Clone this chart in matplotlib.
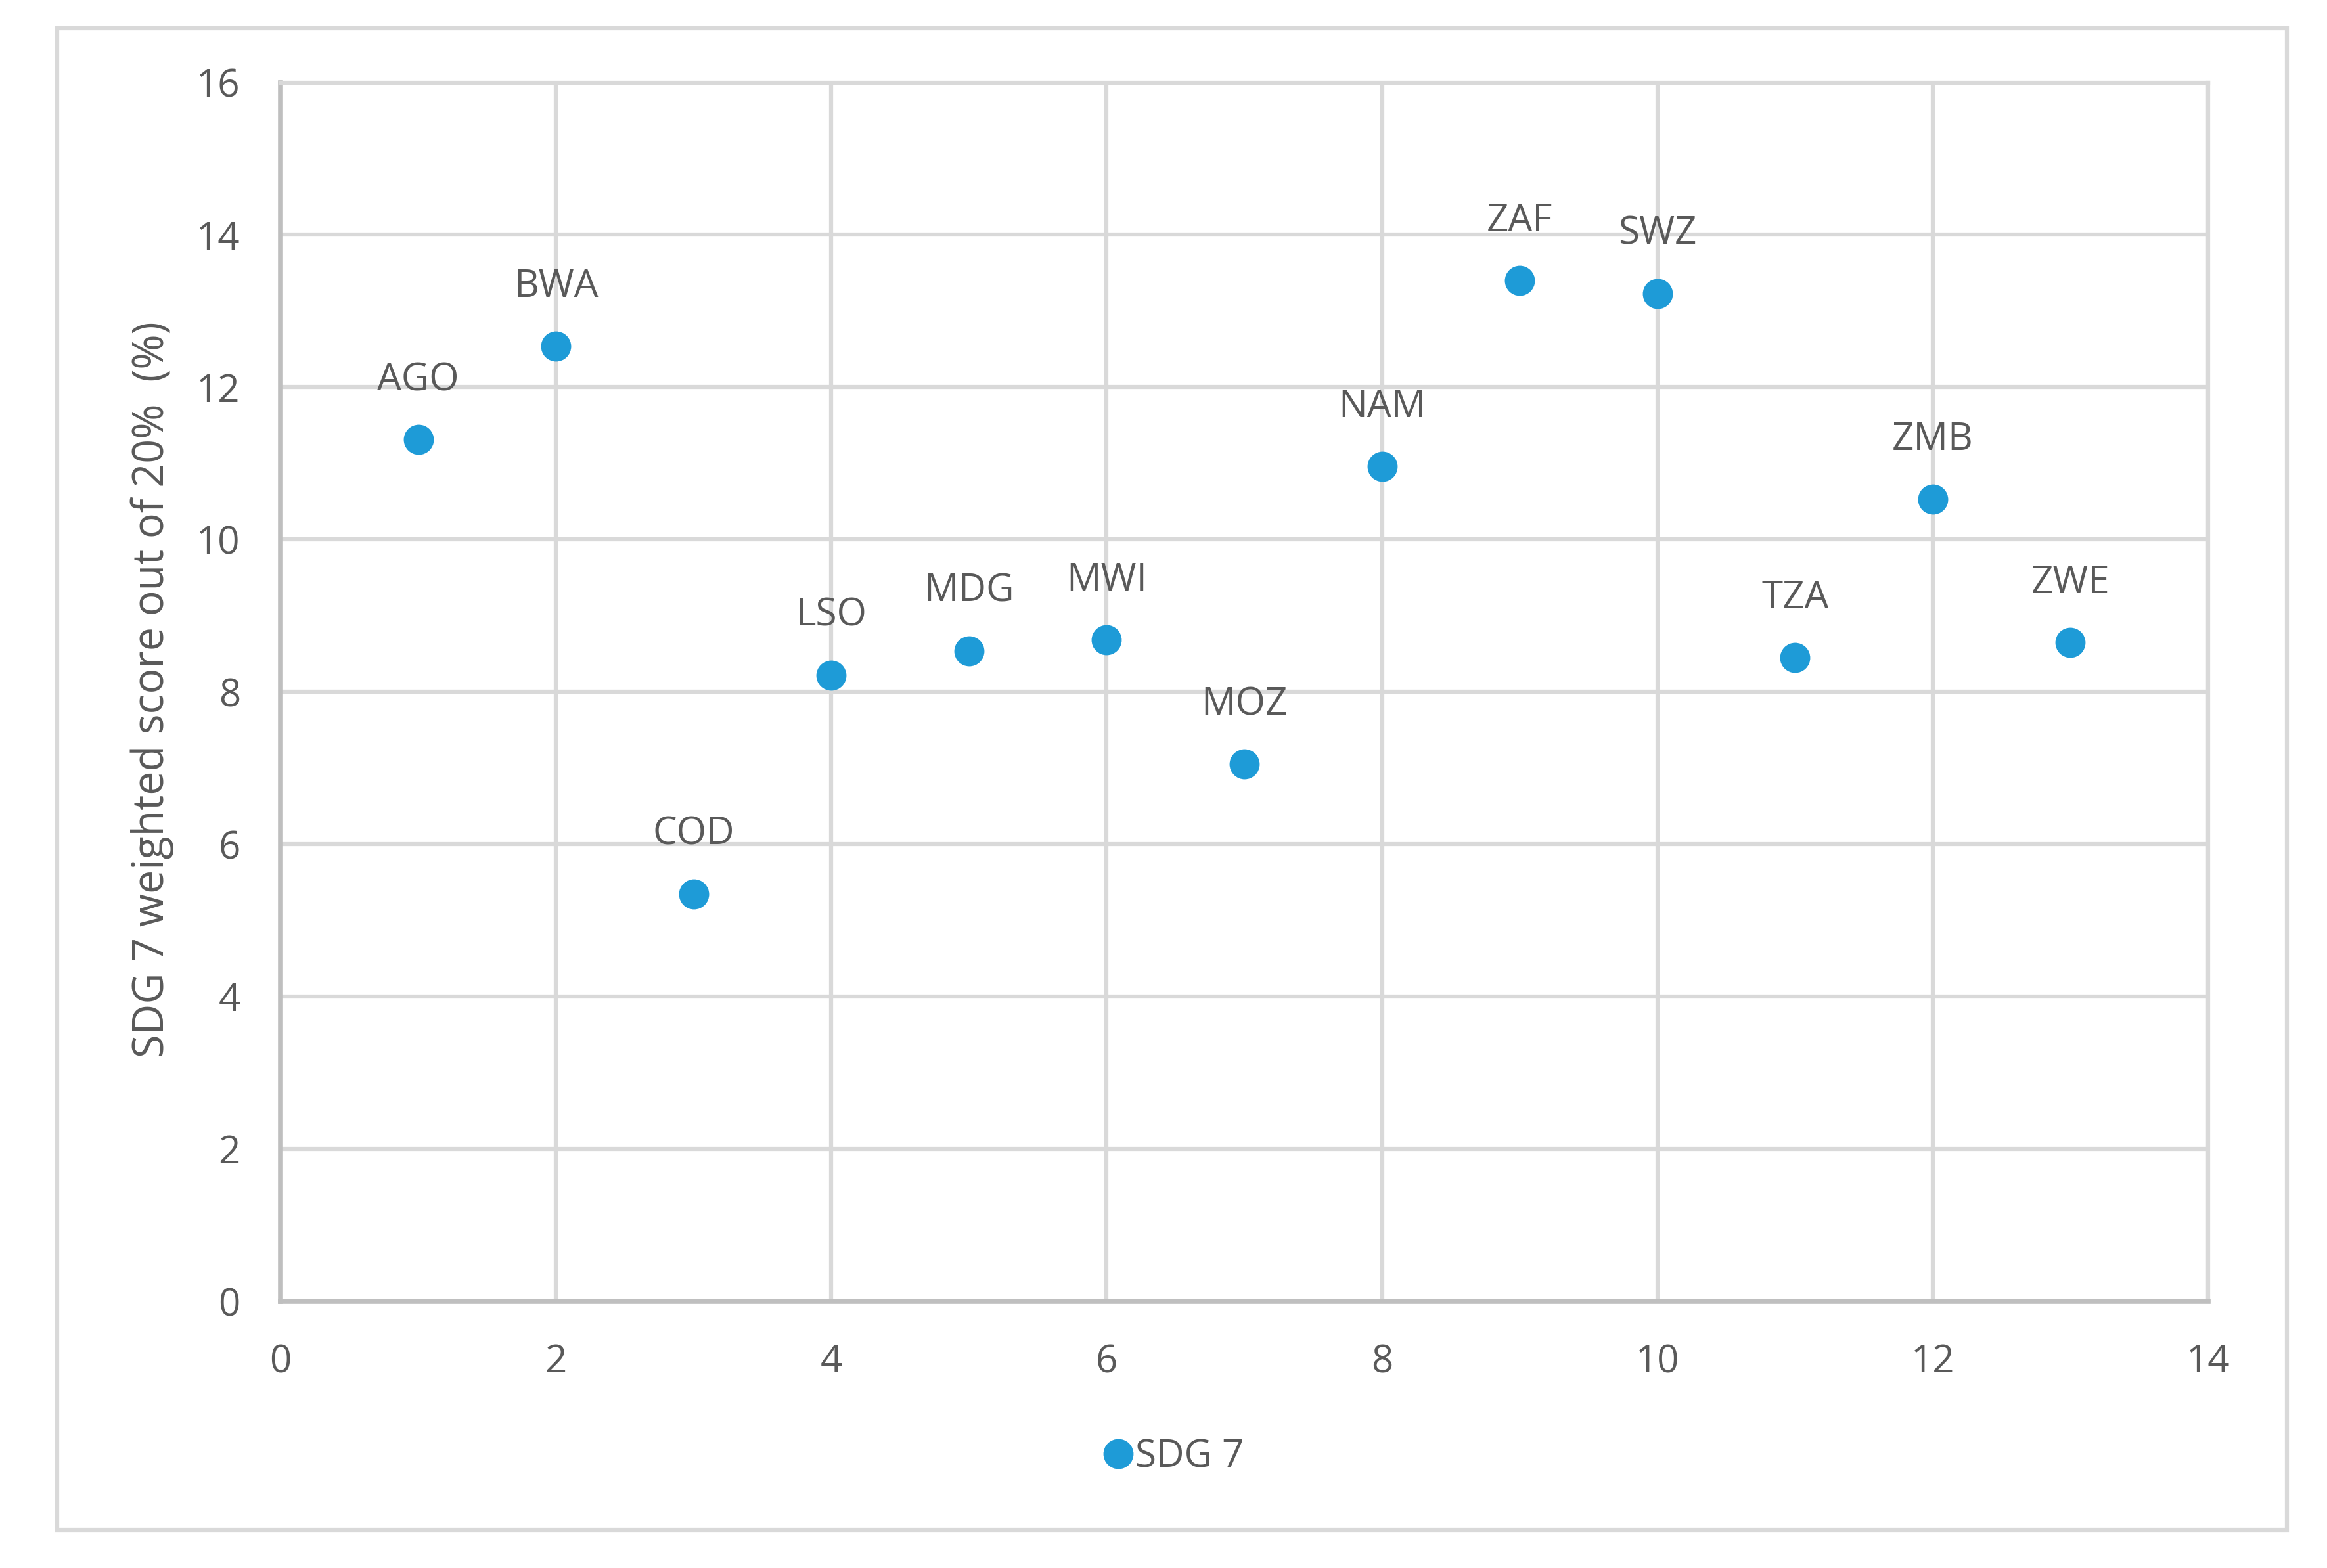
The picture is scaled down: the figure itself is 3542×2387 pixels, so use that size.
import matplotlib
matplotlib.use("Agg")
import matplotlib.pyplot as plt
from matplotlib.patches import Rectangle

# Data
countries = ["AGO", "BWA", "COD", "LSO", "MDG", "MWI", "MOZ", "NAM", "ZAF", "SWZ", "TZA", "ZMB", "ZWE"]
x_index = [1, 2, 3, 4, 5, 6, 7, 8, 9, 10, 11, 12, 13]
sdg7_scores = [11.31, 12.54, 5.35, 8.22, 8.54, 8.68, 7.05, 10.96, 13.40, 13.23, 8.45, 10.53, 8.65]
x_ticks = [0, 2, 4, 6, 8, 10, 12, 14]
y_ticks = [0, 2, 4, 6, 8, 10, 12, 14, 16]
series_name = "SDG 7"
y_label = "SDG 7 weighted score out of 20%  (%)"

plt.rcParams['font.family'] = ['Open Sans', 'DejaVu Sans']

W, H = 3542, 2387
fig = plt.figure(figsize=(W / 100, H / 100), dpi=100)

blue = "#1E9BD7"
txt = "#595959"
grid_c = "#D9D9D9"
axis_c = "#BFBFBF"

# outer chart border
fig.patches.append(Rectangle((87 / W, 1 - 2329 / H), (3481 - 87) / W, (2329 - 43) / H,
                             transform=fig.transFigure, fill=False, edgecolor=grid_c,
                             linewidth=4.5, zorder=0))

ax = fig.add_axes([427 / W, 1 - 1981 / H, (3361 - 427) / W, (1981 - 125.5) / H])
ax.set_xlim(0, 14)
ax.set_ylim(0, 16)
ax.set_xticks(x_ticks)
ax.set_yticks(y_ticks)
ax.grid(True, color=grid_c, linewidth=4.5, zorder=0)
ax.set_axisbelow(True)
for side in ["top", "right"]:
    ax.spines[side].set_color(grid_c)
    ax.spines[side].set_linewidth(4.5)
for side in ["left", "bottom"]:
    ax.spines[side].set_color(axis_c)
    ax.spines[side].set_linewidth(5.5)
ax.tick_params(axis='both', length=0, labelsize=42, labelcolor=txt)
ax.tick_params(axis='y', pad=44)
ax.tick_params(axis='x', pad=46)

ax.plot(x_index, sdg7_scores, linestyle='none', marker='o', markersize=33,
        markerfacecolor=blue, markeredgewidth=0, color=blue, label=series_name, zorder=3)

for c, xv, yv in zip(countries, x_index, sdg7_scores):
    ax.annotate(c, (xv, yv), xytext=(0, 65), textcoords='offset points',
                ha='center', va='center', fontsize=42, color=txt)

fig.text(232 / W, 1 - 1050 / H, y_label, rotation=90, ha='center', va='center',
         fontsize=46.5, color=txt)

leg = fig.legend(loc='center', bbox_to_anchor=(0.505, 1 - 2218 / H), frameon=False,
                 fontsize=42, handlelength=0.6, handletextpad=0.15, markerscale=1.0)
for t in leg.get_texts():
    t.set_color(txt)

fig.savefig("out.png", dpi=100, facecolor='white')
